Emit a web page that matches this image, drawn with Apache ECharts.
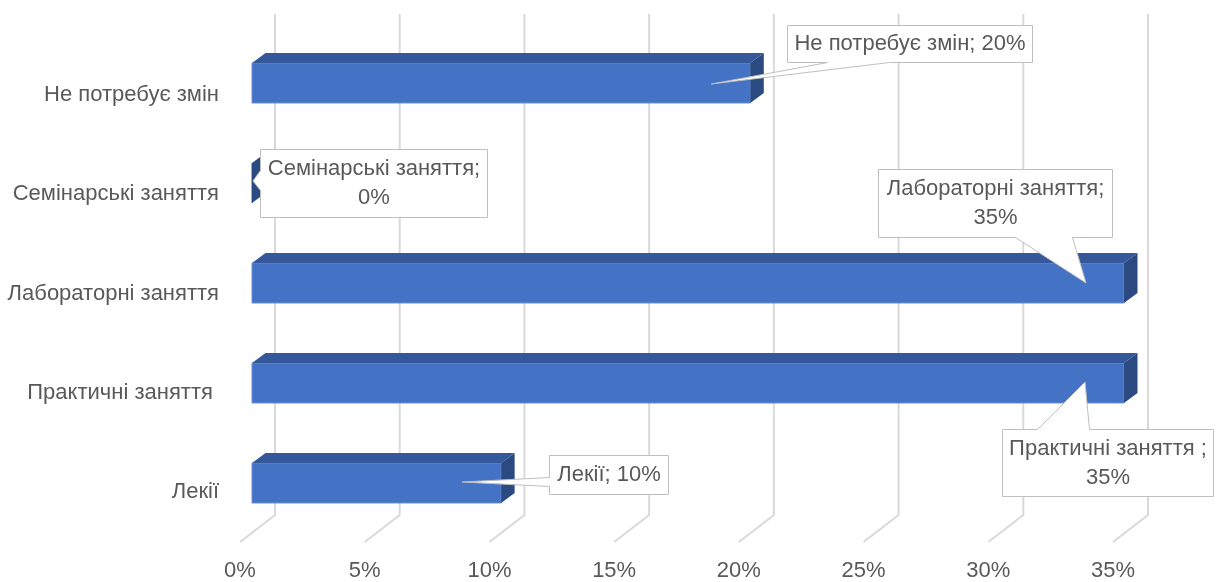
<!DOCTYPE html>
<html>
<head>
<meta charset="utf-8">
<script src="https://cdn.jsdelivr.net/npm/echarts@6/dist/echarts.min.js"></script>
<style>
html,body{margin:0;padding:0;background:#fff;}
#chart{width:1216px;height:582px;}
</style>
</head>
<body>
<div id="chart"></div>
<script>
// ---- data ----
const categories = ['Не потребує змін', 'Семінарські заняття', 'Лабораторні заняття', 'Практичні заняття ', 'Лекії'];
const values = [20, 0, 35, 35, 10];
const xTicks = [0, 5, 10, 15, 20, 25, 30, 35];

// ---- layout / style of callouts (pixel offsets relative to bar end) ----
const calloutLayout = [
  {dx: 37,   dy: -58,  w: 245, h: 37, edge: 'bottom', b1: 40,  b2: 102, tx: -39, ty: 1,  wrap: false},
  {dx: 8,    dy: -34,  w: 227, h: 68, edge: 'left',   b1: 21,  b2: 41,  tx: 1,   ty: -2, wrap: true},
  {dx: -246, dy: -114, w: 234, h: 68, edge: 'bottom', b1: 137, b2: 194, tx: -38, ty: 0,  wrap: true},
  {dx: -122, dy: 46,   w: 211, h: 67, edge: 'top',    b1: 35,  b2: 87,  tx: -39, ty: -1, wrap: true},
  {dx: 48,   dy: -28,  w: 119, h: 39, edge: 'left',   b1: 22,  b2: 31,  tx: -39, ty: -1, wrap: false}
];

const FONT = '"Liberation Sans", Arial, sans-serif';
const FS = 22;
const TEXT = '#595959';
const GRID = '#D9D9D9';
const DEPTH_X = 13.5, DEPTH_Y = 10;

function bubble(bx, by, w, h, edge, b1, b2, tx, ty) {
  const p = [[bx, by]];
  if (edge === 'top') p.push([bx + b1, by], [tx, ty], [bx + b2, by]);
  p.push([bx + w, by], [bx + w, by + h]);
  if (edge === 'bottom') p.push([bx + b2, by + h], [tx, ty], [bx + b1, by + h]);
  p.push([bx, by + h]);
  if (edge === 'left') p.push([bx, by + b2], [tx, ty], [bx, by + b1]);
  return p;
}

const chart = echarts.init(document.getElementById('chart'), null, {renderer: 'canvas'});
const barData = values.map((v, i) => [v, i]);

chart.setOption({
  backgroundColor: '#fff',
  animation: false,
  grid: [
    {left: 275, width: 873, top: 14, height: 501},   // back wall (gridlines)
    {left: 252, width: 872, top: 33, height: 500},   // bar front faces
    {left: 240, width: 873, top: 45, height: 500}    // floor front edge (labels)
  ],
  xAxis: [
    {gridIndex: 0, type: 'value', min: 0, max: 35, interval: 5, show: false},
    {gridIndex: 1, type: 'value', min: 0, max: 35, interval: 5, show: false},
    {gridIndex: 2, type: 'value', min: 0, max: 35, interval: 5,
     axisLine: {show: false}, axisTick: {show: false}, splitLine: {show: false},
     axisLabel: {formatter: '{value}%', color: TEXT, fontFamily: FONT, fontSize: FS, margin: 18}}
  ],
  yAxis: [
    {gridIndex: 0, type: 'value', min: 0, max: 1, show: false},
    {gridIndex: 1, type: 'category', data: categories, inverse: true, show: false},
    {gridIndex: 2, type: 'category', data: categories, inverse: true,
     axisLine: {show: false}, axisTick: {show: false}, splitLine: {show: false},
     axisLabel: {color: TEXT, fontFamily: FONT, fontSize: FS, margin: 21}}
  ],
  series: [
    {
      type: 'custom', xAxisIndex: 0, yAxisIndex: 0, z: 1,
      data: xTicks.map(t => [t]),
      renderItem(params, api) {
        const t = api.value(0);
        const top = api.coord([t, 1]);
        const bot = api.coord([t, 0]);
        return {
          type: 'polyline',
          shape: {points: [top, bot, [bot[0] - 35, bot[1] + 27]]},
          style: {stroke: GRID, lineWidth: 2, fill: null}
        };
      }
    },
    {
      type: 'custom', xAxisIndex: 1, yAxisIndex: 1, z: 2,
      data: barData,
      renderItem(params, api) {
        const v = api.value(0), ci = api.value(1);
        const s = api.coord([0, ci]);
        const e = api.coord([v, ci]);
        const h = api.size([0, 1])[1] * 0.4;
        const x0 = s[0], x1 = e[0], y0 = e[1] - h / 2, y1 = e[1] + h / 2;
        return {
          type: 'group',
          children: [
            {type: 'rect', shape: {x: x0, y: y0, width: x1 - x0, height: h},
             style: {fill: '#4472C4', stroke: '#6A8ED3', lineWidth: 1}},
            {type: 'polygon', shape: {points: [[x0, y0], [x0 + DEPTH_X, y0 - DEPTH_Y], [x1 + DEPTH_X, y0 - DEPTH_Y], [x1, y0]]},
             style: {fill: '#35589A'}},
            {type: 'polygon', shape: {points: [[x1, y0], [x1 + DEPTH_X, y0 - DEPTH_Y], [x1 + DEPTH_X, y1 - DEPTH_Y], [x1, y1]]},
             style: {fill: '#2B4A82'}}
          ]
        };
      }
    },
    {
      type: 'custom', xAxisIndex: 1, yAxisIndex: 1, z: 3,
      data: barData,
      renderItem(params, api) {
        const v = api.value(0), ci = api.value(1);
        const e = api.coord([v, ci]);
        const L = calloutLayout[params.dataIndex];
        const bx = Math.round(e[0] + L.dx) + 0.5, by = Math.round(e[1] + L.dy) + 0.5;
        const tx = e[0] + L.tx, ty = e[1] + L.ty;
        const label = categories[ci] + ';' + (L.wrap ? '\n' : ' ') + v + '%';
        return {
          type: 'group',
          children: [
            {type: 'polygon', shape: {points: bubble(bx, by, L.w, L.h, L.edge, L.b1, L.b2, tx, ty)},
             style: {fill: '#fff', stroke: '#BFBFBF', lineWidth: 1}},
            {type: 'text', style: {x: bx + L.w / 2, y: by + L.h / 2, text: label, align: 'center', verticalAlign: 'middle',
             fill: TEXT, font: FS + 'px ' + FONT, lineHeight: 29}}
          ]
        };
      }
    }
  ]
});
</script>
</body>
</html>
